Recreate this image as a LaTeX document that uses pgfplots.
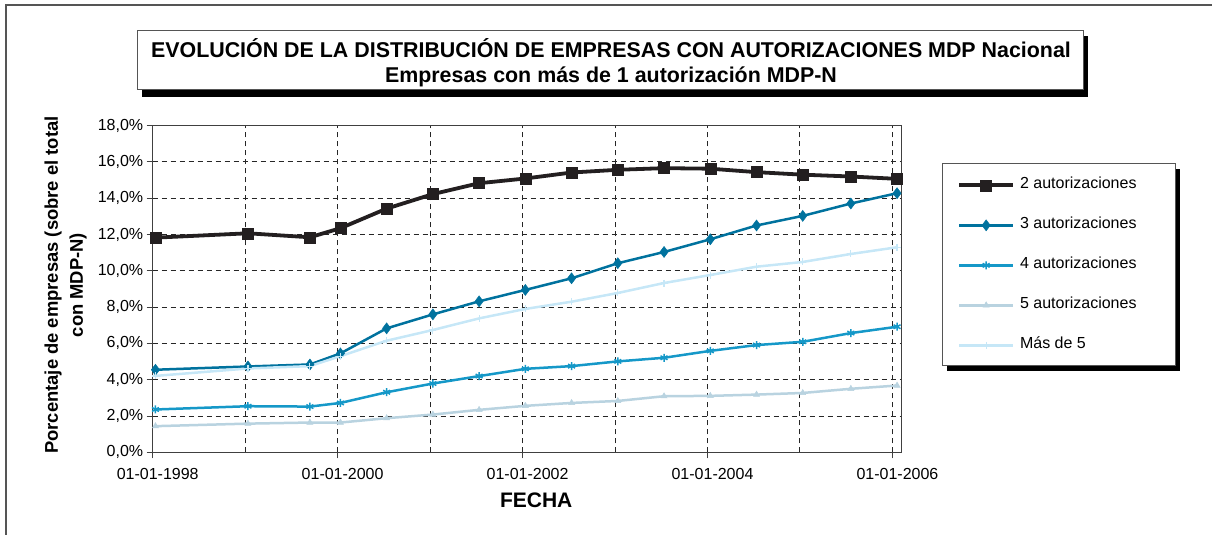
\documentclass[border=0pt]{standalone}
\usepackage{fontspec}
\setmainfont{Liberation Sans}
\usepackage{pgfplots}
\pgfplotsset{compat=1.18}

\definecolor{cdos}{HTML}{231F20}
\definecolor{ctres}{HTML}{00729E}
\definecolor{ccuatro}{HTML}{1598C8}
\definecolor{ccinco}{HTML}{B9D3E0}
\definecolor{cmas}{HTML}{C6E7F7}
\definecolor{frame}{HTML}{555555}

\begin{document}
\begin{tikzpicture}[x=1pt,y=1pt]
\path[use as bounding box] (0,0) rectangle (1212,535);
% outer frame
\draw[frame, line width=1.5pt] (6,0) -- (6,530) -- (1212,530);
% title box with shadow
\fill[black] (142,438) rectangle (1088,499);
\draw[fill=white, draw=frame, line width=1pt] (137,445) rectangle (1083,504);
\node[font=\fontsize{21.4}{25}\selectfont\bfseries, align=center] at (611,472.5)
  {EVOLUCIÓN DE LA DISTRIBUCIÓN DE EMPRESAS CON AUTORIZACIONES MDP Nacional\\
   Empresas con más de 1 autorización MDP-N};
% legend box with shadow
\fill[black] (947,164) rectangle (1180,366);
\draw[fill=white, draw=frame, line width=1pt] (942,169) rectangle (1175,371);

\begin{axis}[
  at={(152.7pt,82.7pt)}, anchor=south west,
  scale only axis, width=749pt, height=326.6pt,
  xmin=1998, xmax=2006.1, ymin=0, ymax=18,
  xtick={1998,2000,2002,2004,2006},
  xticklabels={01-01-1998,01-01-2000,01-01-2002,01-01-2004,01-01-2006},
  minor xtick={1999,2001,2003,2005},
  ytick={0,2,...,18},
  yticklabels={{0,0\%},{2,0\%},{4,0\%},{6,0\%},{8,0\%},{10,0\%},{12,0\%},{14,0\%},{16,0\%},{18,0\%}},
  xmajorgrids, xminorgrids, ymajorgrids,
  grid style={black!85, line width=1pt, dash pattern=on 5pt off 4pt},
  minor grid style={black!85, line width=1pt, dash pattern=on 5pt off 4pt},
  axis line style={black!75, line width=1.5pt},
  tick align=outside, tick pos=left,
  major tick length=6pt, minor tick length=0pt,
  tick style={black!75, line width=1pt},
  ticklabel style={font=\fontsize{16}{18}\selectfont},
  xticklabel style={xshift=5pt, yshift=-6pt},
  xlabel={FECHA},
  xlabel style={font=\fontsize{21}{24}\selectfont\bfseries,
    at={(axis description cs:0.512,-0.148)}, anchor=center},
  ylabel={Porcentaje de empresas (sobre el total\\con MDP-N)},
  ylabel style={font=\fontsize{18.4}{25}\selectfont\bfseries, align=center,
    at={(axis description cs:-0.1164,0.512)}, anchor=center},
  legend style={at={(axis description cs:1.0739,0.841)}, anchor=north west,
    draw=none, fill=none, inner sep=0pt, row sep=25pt, column sep=5pt,
    font=\fontsize{16}{18}\selectfont,
    nodes={inner sep=0pt, text height=11pt, text depth=4pt}},
  legend cell align=left,
  legend image code/.code={
    \draw[mark repeat=2,mark phase=2] plot coordinates {(0pt,0pt) (27pt,0pt) (54pt,0pt)};
  },
]
\addplot[cdos, line width=3.8pt, mark=square*, mark size=5.5pt, mark options={solid, line width=0.5pt}] coordinates {
  (1998.03,11.83) (1999.03,12.07) (1999.70,11.85) (2000.03,12.35) (2000.53,13.43)
  (2001.03,14.23) (2001.53,14.83) (2002.03,15.09) (2002.53,15.42) (2003.03,15.57)
  (2003.53,15.66) (2004.03,15.63) (2004.53,15.44) (2005.03,15.30) (2005.55,15.20)
  (2006.05,15.07)};
\addlegendentry{2 autorizaciones}
\addplot[ctres, line width=2.5pt, mark=diamond*, mark size=5.5pt, mark options={solid, line width=0.5pt}] coordinates {
  (1998.03,4.55) (1999.03,4.73) (1999.70,4.84) (2000.03,5.45) (2000.53,6.83)
  (2001.03,7.60) (2001.53,8.32) (2002.03,8.95) (2002.53,9.59) (2003.03,10.42)
  (2003.53,11.04) (2004.03,11.74) (2004.53,12.50) (2005.03,13.03) (2005.55,13.71)
  (2006.05,14.28)};
\addlegendentry{3 autorizaciones}
\addplot[ccuatro, line width=2.5pt, mark=asterisk, mark size=4pt, mark options={solid, line width=1.5pt}] coordinates {
  (1998.03,2.36) (1999.03,2.54) (1999.70,2.52) (2000.03,2.72) (2000.53,3.31)
  (2001.03,3.79) (2001.53,4.20) (2002.03,4.60) (2002.53,4.75) (2003.03,5.01)
  (2003.53,5.21) (2004.03,5.59) (2004.53,5.91) (2005.03,6.09) (2005.55,6.57)
  (2006.05,6.92)};
\addlegendentry{4 autorizaciones}
\addplot[ccinco, line width=2.5pt, mark=triangle*, mark size=3.5pt, mark options={solid, line width=0.5pt}] coordinates {
  (1998.03,1.44) (1999.03,1.58) (1999.70,1.64) (2000.03,1.64) (2000.53,1.88)
  (2001.03,2.08) (2001.53,2.34) (2002.03,2.56) (2002.53,2.72) (2003.03,2.83)
  (2003.53,3.09) (2004.03,3.11) (2004.53,3.18) (2005.03,3.27) (2005.55,3.50)
  (2006.05,3.68)};
\addlegendentry{5 autorizaciones}
\addplot[cmas, line width=2.5pt, mark=+, mark size=3.5pt, mark options={solid, line width=1.2pt}] coordinates {
  (1998.03,4.21) (1999.03,4.62) (1999.70,4.75) (2000.03,5.30) (2000.53,6.15)
  (2001.03,6.74) (2001.53,7.38) (2002.03,7.90) (2002.53,8.30) (2003.03,8.78)
  (2003.53,9.33) (2004.03,9.77) (2004.53,10.23) (2005.03,10.49) (2005.55,10.93)
  (2006.05,11.30)};
\addlegendentry{Más de 5}
\end{axis}
\end{tikzpicture}
\end{document}
